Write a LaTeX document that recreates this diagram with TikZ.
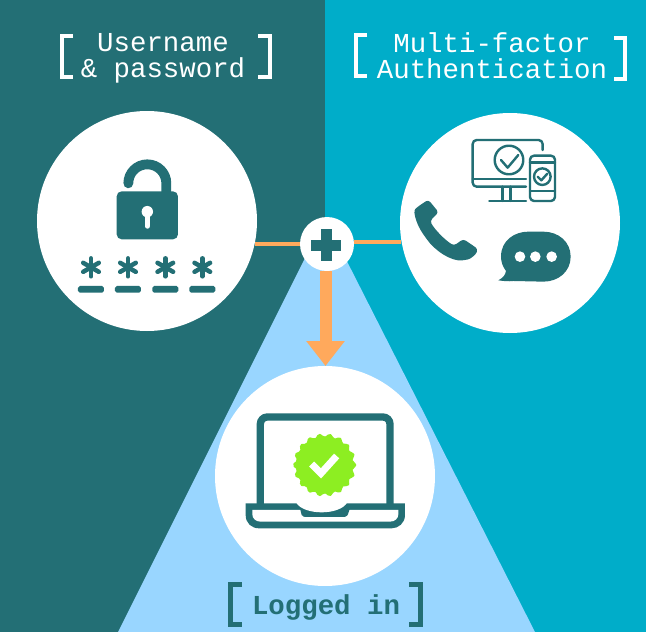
\documentclass[tikz,border=0pt]{standalone}
\usepackage{fontspec}
\setmonofont{Liberation Mono}
\usetikzlibrary{arrows.meta}
\definecolor{teal1}{HTML}{236F75}
\definecolor{cyan1}{HTML}{00ADC9}
\definecolor{sky1}{HTML}{99D6FF}
\definecolor{orange1}{HTML}{FFA95C}
\definecolor{green1}{HTML}{8DEE22}
\tikzset{
  disc/.style={circle,fill=white,draw=none,minimum size=220pt,inner sep=0pt},
  plusdisc/.style={circle,fill=white,draw=none,minimum size=54pt,inner sep=0pt},
  link/.style={draw=orange1,line width=4.5pt},
  label/.style={font=\ttfamily\fontsize{27.4}{26}\selectfont,align=center,inner sep=0pt,text=white},
  bracket/.style={line width=4.6pt,white,miter limit=10},
  thin1/.style={draw=teal1,line width=2.4pt,line cap=round,line join=round},
  zoomA/.style={shift={(400pt,-125pt)},x=0.3333pt,y=-0.3333pt},
  zoomB/.style={shift={(235pt,-400pt)},x=0.3333pt,y=-0.3333pt},
  zoomC/.style={shift={(60pt,-150pt)},x=0.3333pt,y=-0.3333pt}
}
\begin{document}
\begin{tikzpicture}[x=1pt,y=-1pt]
\useasboundingbox (0,0) rectangle (646,632);
\fill[teal1] (0,0) rectangle (325,632);
\fill[cyan1] (325,0) rectangle (646,632);
\fill[sky1] (325,218) -- (535,632) -- (118,632) -- cycle;

\node[disc] (user) at (147,221) {};
\node[disc] (mfa) at (510,223) {};
\node[disc] (done) at (325,476) {};
\node[plusdisc] (plus) at (327,244) {};

\draw[link] (user.-12.6) -- (plus.west |- user.-12.6);
\draw[link] (plus.east |- mfa.190.8) -- (mfa.190.8);
\coordinate (armstart) at (325.5,271);
\coordinate (armend) at (325.5,366);
\draw[draw=orange1,fill=orange1,line width=12pt,-{Triangle[length=25pt,width=37pt]}] (armstart) -- (armend);

\fill[teal1] (321,229) rectangle (332,261);
\fill[teal1] (311,240) rectangle (341,251);

% labels
\node[label] (t1) at (163,58) {Username\\\& password};
\node[label] (t2) at (492,56) {Multi-factor\\Authentication};
\node[label,text=teal1,font=\ttfamily\bfseries\fontsize{27.4}{26}\selectfont] (t3) at (326,607) {Logged in};

% brackets
\draw[bracket] (73,36) -- (62,36) -- (62,77) -- (73,77);
\draw[bracket] (258,36) -- (270,36) -- (270,77) -- (258,77);
\draw[bracket] (367,35) -- (356,35) -- (356,76) -- (367,76);
\draw[bracket] (614,38) -- (625,38) -- (625,79) -- (614,79);
\draw[bracket,teal1] (242,584.5) -- (230.5,584.5) -- (230.5,624.5) -- (242,624.5);
\draw[bracket,teal1] (409,584.5) -- (420.5,584.5) -- (420.5,624.5) -- (409,624.5);

% lock
\begin{scope}[zoomC]
\fill[teal1,rounded corners=5pt] (170,124) rectangle (354,268);
\draw[teal1,line width=9.8pt,line cap=round] (205,100) arc[start angle=180,end angle=0,radius=19pt] -- (319,130);
\fill[white] (262,185) circle[radius=5.7pt];
\draw[white,line width=5.5pt,line cap=round] (262,190) -- (262,228);
\foreach \cx in {93,204,316,427}{
  \foreach \a in {90,30,150}{
    \draw[teal1,line width=4.5pt,line cap=round] (\cx,352) ++(\a:27) -- ++(\a+180:54);
  }
  \fill[teal1,rounded corners=1.8pt] (\cx-39,408) rectangle (\cx+39,428);
}
\end{scope}

% devices, phone, bubble
\begin{scope}[zoomA]
\draw[thin1,rounded corners=4pt] (428,75) -- (428,45) -- (218,45) -- (218,185) -- (378,185);
\draw[thin1] (218,162) -- (378,162);
\draw[thin1] (308,185) -- (308,228) (332,185) -- (332,228) (268,228) -- (378,228);
\draw[thin1] (327,105) circle[radius=14.3pt];
\draw[thin1] (303,105) -- (323,128) -- (355,90);
\draw[thin1,rounded corners=4pt] (390,92) rectangle (465,228);
\draw[thin1] (390,113) -- (465,113) (390,198) -- (465,198);
\draw[thin1] (427,155) circle[radius=8.3pt];
\draw[thin1] (413,155) -- (424,166) -- (442,146);
\fill[teal1,rounded corners=3pt] (85,224) -- (52,246)
  .. controls (38,260) and (50,300) .. (75,335)
  .. controls (105,378) and (155,410) .. (195,405)
  .. controls (212,402) and (228,388) .. (234,372)
  -- (190,342) -- (162,362)
  .. controls (135,345) and (105,315) .. (90,288)
  -- (116,262) -- cycle;
\fill[teal1] (303,395) .. controls (303,345) and (345,320) .. (385,320) -- (430,320) .. controls (475,320) and (512,350) .. (512,395) .. controls (512,440) and (475,470) .. (430,470) -- (340,468) .. controls (325,470) and (310,468) .. (295,466) .. controls (310,458) and (316,450) .. (318,438) .. controls (308,425) and (303,410) .. (303,395) -- cycle;
\fill[white] (360,395) circle[radius=5.3pt] (406,395) circle[radius=5.3pt] (455,395) circle[radius=5.3pt];
\end{scope}

% laptop
\begin{scope}[zoomB]
\draw[teal1,line width=7.3pt,rounded corners=7pt] (76,312) -- (76,51) -- (465,51) -- (465,312);
\fill[teal1] (32,310) -- (510,310) -- (510,345) .. controls (510,370) and (490,385) .. (470,385) -- (72,385) .. controls (50,385) and (32,370) .. (32,345) -- cycle;
\fill[white] (52,330) -- (490,330) -- (490,343) .. controls (490,355) and (480,365) .. (465,365) -- (77,365) .. controls (62,365) and (52,355) .. (52,343) -- cycle;
\fill[teal1] (195,325) -- (345,325) -- (338,345) .. controls (335,350) and (330,351) .. (325,351) -- (213,351) .. controls (208,351) and (203,350) .. (200,345) -- cycle;
\fill[white] (183,307) .. controls (205,347) and (315,347) .. (337,307) -- cycle;
\fill[green1,shift={(269,195)}] plot[smooth cycle,samples=73,domain=0:355] (\x:{90+5*cos(18*\x)});
\draw[white,line width=7pt] (230,192) -- (258,220) -- (305,168);
\end{scope}
\end{tikzpicture}
\end{document}
